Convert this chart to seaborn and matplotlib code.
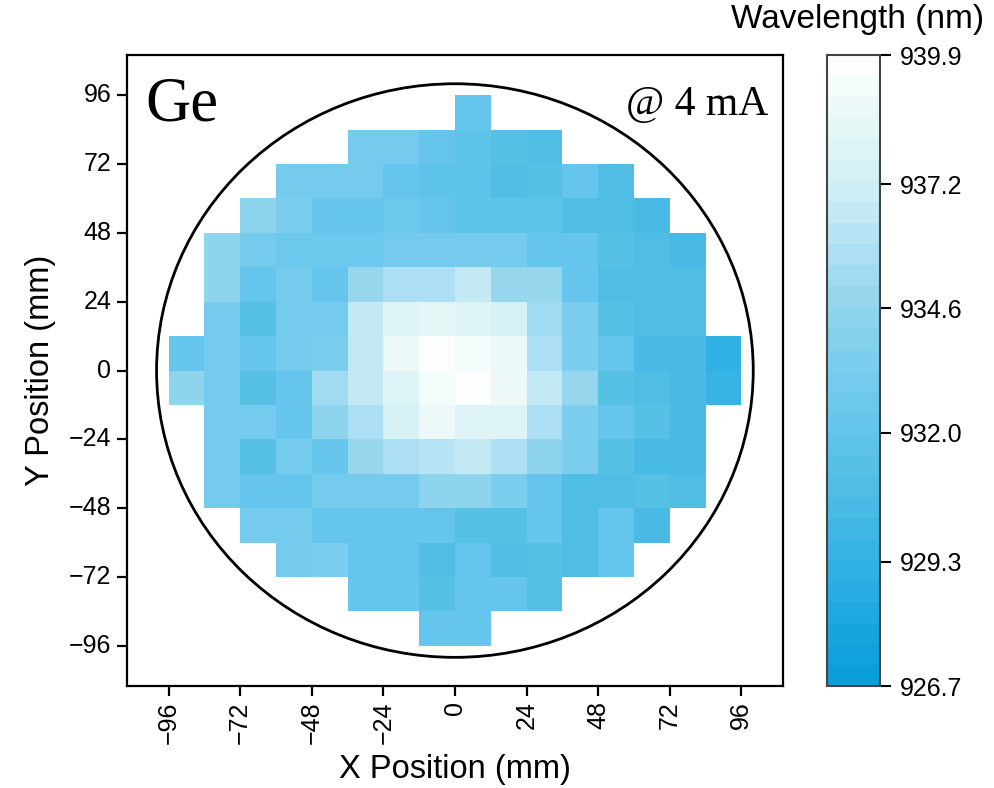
import numpy as np
import pandas as pd
import matplotlib
matplotlib.use("Agg")
import matplotlib.pyplot as plt
from matplotlib.colors import LinearSegmentedColormap, ListedColormap
from matplotlib.patches import Circle
import seaborn as sns

# ---- data -------------------------------------------------------------
# die centres (mm); cells are 12 mm wide with edges on multiples of 12
x_centers = [-90, -78, -66, -54, -42, -30, -18, -6, 6, 18, 30, 42, 54, 66, 78, 90]
y_centers = [90, 78, 66, 54, 42, 30, 18, 6, -6, -18, -30, -42, -54, -66, -78, -90]

# first populated column of each row (top to bottom) and the measured wavelengths (nm)
row_first_col = [8, 5, 3, 2, 1, 1, 1, 0, 0, 1, 1, 1, 2, 3, 5, 7]
row_values = [
    [932.0],
    [933.3, 933.2, 932.0, 931.6, 931.5, 930.8],
    [933.2, 933.2, 933.2, 932.3, 931.7, 931.6, 930.8, 931.4, 932.2, 931.0],
    [934.2, 933.5, 932.0, 932.0, 932.7, 932.0, 931.7, 931.7, 931.6, 930.8, 930.8, 930.3],
    [934.4, 933.3, 932.5, 932.5, 932.5, 933.3, 933.3, 933.3, 932.9, 932.3, 932.0, 931.4, 930.8, 930.5],
    [934.4, 932.3, 933.2, 932.3, 935.0, 935.8, 935.8, 936.4, 934.7, 934.7, 932.0, 930.8, 930.8, 930.8],
    [933.0, 931.4, 933.2, 933.2, 936.4, 937.7, 938.2, 938.0, 937.4, 935.4, 933.5, 931.4, 930.8, 930.8],
    [932.3, 933.1, 932.0, 933.2, 933.4, 936.6, 938.6, 939.6, 939.2, 938.8, 935.8, 933.5, 932.0, 930.6, 930.6, 929.2],
    [934.2, 933.1, 931.4, 932.3, 935.4, 936.4, 937.9, 939.2, 939.8, 938.8, 936.6, 934.7, 931.5, 930.8, 930.6, 929.5],
    [933.2, 933.2, 932.3, 934.2, 935.5, 937.4, 938.7, 938.0, 937.7, 935.5, 933.5, 932.4, 931.5, 930.3],
    [933.3, 931.4, 933.2, 932.0, 934.7, 935.8, 936.3, 936.7, 935.5, 934.3, 933.4, 931.4, 930.3, 930.3],
    [933.2, 932.3, 932.3, 933.1, 933.1, 933.1, 934.4, 934.3, 933.4, 932.4, 930.9, 930.9, 931.5, 930.9],
    [933.2, 933.2, 932.3, 932.0, 932.2, 932.0, 931.5, 931.5, 932.0, 930.9, 932.0, 930.3],
    [933.2, 933.4, 932.3, 932.0, 930.8, 932.0, 930.8, 931.5, 930.9, 932.2],
    [932.3, 932.0, 931.4, 932.0, 932.0, 931.5],
    [932.2, 932.2],
]

tick_mm = [-96, -72, -48, -24, 0, 24, 48, 72, 96]
cbar_ticks = [926.7, 929.3, 932.0, 934.6, 937.2, 939.9]
wl_min, wl_max = 926.7, 939.9
wafer_radius = 100.0

# ---- grid ---------------------------------------------------------------
grid = np.full((len(y_centers), len(x_centers)), np.nan)
for r, (c0, vals) in enumerate(zip(row_first_col, row_values)):
    grid[r, c0:c0 + len(vals)] = vals
df = pd.DataFrame(grid, index=y_centers, columns=x_centers)

# ---- colormap: 30 discrete steps from deep sky blue to white -----------
anchors = [
    (926.7, "#0a9edb"), (928.0, "#1fa8e0"), (929.3, "#35b2e4"),
    (930.5, "#4cbae6"), (931.4, "#58c2e4"), (932.3, "#68c6ee"),
    (933.3, "#78cdee"), (934.6, "#8fd5ec"), (935.8, "#acdff4"),
    (937.2, "#cdeef4"), (938.5, "#e4f6f6"), (939.9, "#fcfefe"),
]
smooth = LinearSegmentedColormap.from_list(
    "wl", [((v - wl_min) / (wl_max - wl_min), c) for v, c in anchors])
cmap = ListedColormap(smooth(np.linspace(0, 1, 30)))

# ---- figure -------------------------------------------------------------
sns.set_style("ticks")
plt.rcParams["font.family"] = ["Liberation Sans", "DejaVu Sans"]
plt.rcParams["axes.unicode_minus"] = True
plt.rcParams["text.color"] = "black"
plt.rcParams["axes.labelcolor"] = "black"

fig = plt.figure(figsize=(9.94, 7.88), dpi=100)
ax = fig.add_axes([0.1275, 0.1294, 0.6603, 0.8007])
cax = fig.add_axes([0.832, 0.1294, 0.0533, 0.8007])

sns.heatmap(df, cmap=cmap, vmin=wl_min, vmax=wl_max, ax=ax, cbar_ax=cax,
            cbar_kws={"ticks": cbar_ticks}, linewidths=0)

step = 12.0
def to_col(v):
    return (v + 96) / step

def to_row(v):
    return (96 - v) / step

ax.set_xlim(to_col(-110), to_col(110))
ax.set_ylim(to_row(-110), to_row(110))

ax.set_xticks([to_col(v) for v in tick_mm])
ax.set_xticklabels([f"{v}".replace("-", "\u2212") for v in tick_mm], rotation=90)
ax.set_yticks([to_row(v) for v in tick_mm])
ax.set_yticklabels([f"{v}".replace("-", "\u2212") for v in tick_mm], rotation=0)

ax.add_patch(Circle((to_col(0), to_row(0)), wafer_radius / step, fill=False,
                    edgecolor="black", linewidth=2.0, zorder=5))

for s in ax.spines.values():
    s.set_visible(True)
    s.set_linewidth(1.6)
    s.set_color("black")
ax.tick_params(axis="both", direction="out", length=7, width=1.6,
               labelsize=18, colors="black", pad=4)

ax.set_xlabel("X Position (mm)", fontsize=23.5, labelpad=7, color="black")
ax.set_ylabel("Y Position (mm)", fontsize=23.5, labelpad=9, color="black")

ax.text(0.028, 0.897, "Ge", transform=ax.transAxes, fontsize=45, color="black",
        family=["Liberation Serif"], ha="left", va="baseline")
ax.text(0.977, 0.905, "@ 4 mA", transform=ax.transAxes, fontsize=30, color="black",
        family=["Liberation Serif"], ha="right", va="baseline")

cb = ax.collections[0].colorbar
cb.outline.set_visible(True)
cb.outline.set_linewidth(1.5)
cb.outline.set_edgecolor("#444444")
cb.set_ticklabels([f"{t:.1f}" for t in cbar_ticks])
cax.tick_params(length=8, width=1.5, labelsize=18, colors="black", pad=6)

fig.text(0.863, 0.975, "Wavelength (nm)", fontsize=24, ha="center", va="center",
         color="black")

fig.savefig("out.png", dpi=100, facecolor="white")
